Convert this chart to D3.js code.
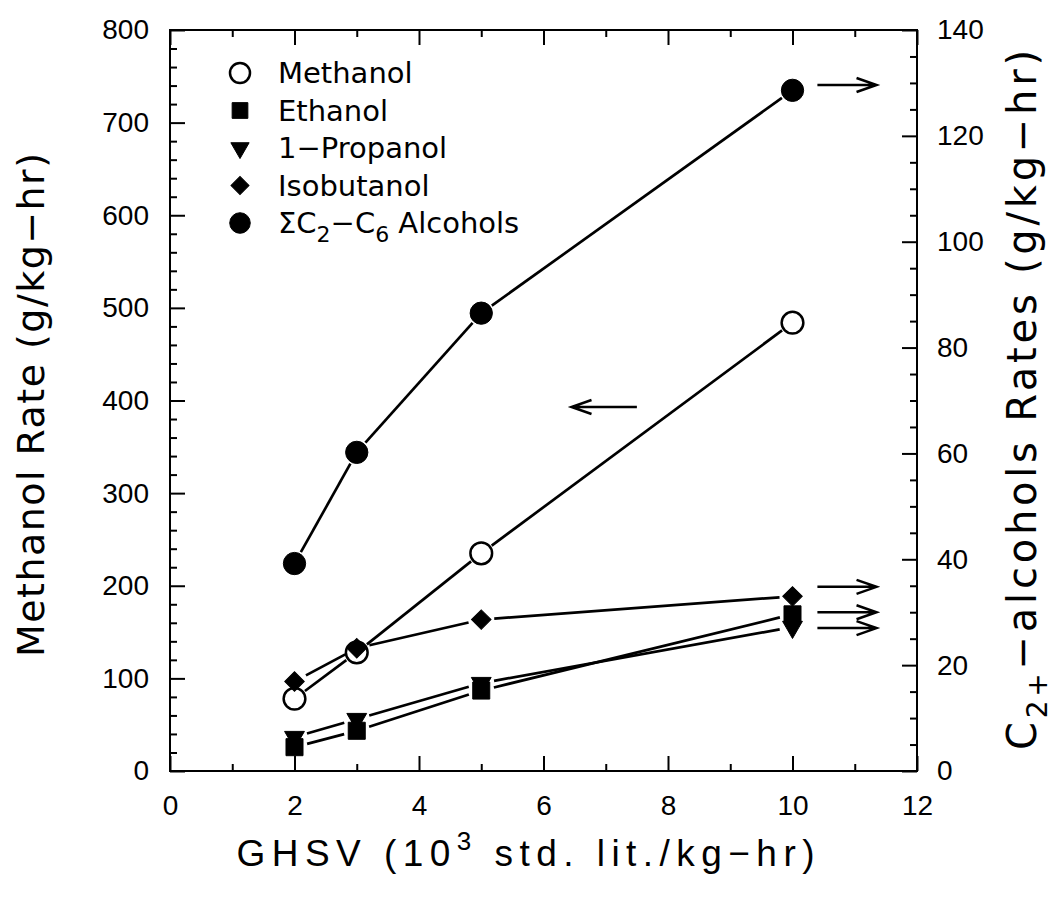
<!DOCTYPE html>
<html>
<head>
<meta charset="utf-8">
<script src="https://cdn.jsdelivr.net/npm/d3@7"></script>
<style>
  html, body { margin: 0; padding: 0; background: #fff; }
  svg { display: block; }
</style>
</head>
<body>
<div id="chart"></div>
<script>
// GHSV values (10^3 std. lit./kg-hr)
const ghsv = [2, 3, 5, 10];

// left axis: methanol rate (g/kg-hr)
const methanol = [78, 128, 235, 484];

// right axis: C2+ alcohol rates (g/kg-hr)
const ethanol = [4.5, 7.6, 15.2, 29.6];
const propanol = [6.4, 9.8, 16.6, 27.2];
const isobutanol = [16.9, 23.2, 28.6, 33.0];
const sumC2C6 = [39.2, 60.2, 86.5, 128.6];

// axis ticks
const xTicks = [0, 2, 4, 6, 8, 10, 12];
const yLeftTicks = [0, 100, 200, 300, 400, 500, 600, 700, 800];
const yRightTicks = [0, 20, 40, 60, 80, 100, 120, 140];

const width = 1056;
const height = 897;
const marginTop = 30;
const marginLeft = 170;
const marginRight = 139;
const marginBottom = 126;
const majorTick = 15;
const minorTick = 7;
const tickFont = "Liberation Sans, Arial, sans-serif";
const textFont = "DejaVu Sans, Verdana, sans-serif";

const x = d3.scaleLinear([0, 12], [marginLeft, width - marginRight]);
const yLeft = d3.scaleLinear([0, 800], [height - marginBottom, marginTop]);
const yRight = d3.scaleLinear([0, 140], [height - marginBottom, marginTop]);

const svg = d3
  .select("#chart")
  .append("svg")
  .attr("width", width)
  .attr("height", height)
  .attr("viewBox", [0, 0, width, height]);

svg.append("rect").attr("width", width).attr("height", height).attr("fill", "#fff");

// helper: style an axis group (inward ticks, no domain line)
function styleAxis(g, fontSize) {
  g.select(".domain").remove();
  g.selectAll(".tick line").attr("stroke", "#000").attr("stroke-width", 2);
  g.selectAll(".tick text")
    .attr("fill", "#000")
    .attr("font-family", tickFont)
    .attr("font-size", fontSize);
}

const xMinor = d3.range(0, 13, 1).filter((d) => d % 2 !== 0);
const yLeftMinor = d3.range(0, 801, 20).filter((d) => d % 100 !== 0);
const yRightMinor = d3.range(0, 141, 5).filter((d) => d % 20 !== 0);

// bottom axis
svg.append("g")
  .attr("transform", `translate(0,${height - marginBottom})`)
  .call(d3.axisBottom(x).tickValues(xTicks).tickSize(-majorTick).tickPadding(24))
  .call((g) => styleAxis(g, 28));
svg.append("g")
  .attr("transform", `translate(0,${height - marginBottom})`)
  .call(d3.axisBottom(x).tickValues(xMinor).tickSize(-minorTick).tickFormat(""))
  .call((g) => styleAxis(g, 28));

// top axis (ticks only)
svg.append("g")
  .attr("transform", `translate(0,${marginTop})`)
  .call(d3.axisTop(x).tickValues(xTicks).tickSize(-majorTick).tickFormat(""))
  .call((g) => styleAxis(g, 28));
svg.append("g")
  .attr("transform", `translate(0,${marginTop})`)
  .call(d3.axisTop(x).tickValues(xMinor).tickSize(-minorTick).tickFormat(""))
  .call((g) => styleAxis(g, 28));

// left axis
svg.append("g")
  .attr("transform", `translate(${marginLeft},0)`)
  .call(d3.axisLeft(yLeft).tickValues(yLeftTicks).tickSize(-majorTick).tickPadding(21))
  .call((g) => styleAxis(g, 28));
svg.append("g")
  .attr("transform", `translate(${marginLeft},0)`)
  .call(d3.axisLeft(yLeft).tickValues(yLeftMinor).tickSize(-minorTick).tickFormat(""))
  .call((g) => styleAxis(g, 28));

// right axis
svg.append("g")
  .attr("transform", `translate(${width - marginRight},0)`)
  .call(d3.axisRight(yRight).tickValues(yRightTicks).tickSize(-majorTick).tickPadding(20))
  .call((g) => styleAxis(g, 28));
svg.append("g")
  .attr("transform", `translate(${width - marginRight},0)`)
  .call(d3.axisRight(yRight).tickValues(yRightMinor).tickSize(-minorTick).tickFormat(""))
  .call((g) => styleAxis(g, 28));

// frame
svg.append("rect")
  .attr("x", marginLeft)
  .attr("y", marginTop)
  .attr("width", width - marginLeft - marginRight)
  .attr("height", height - marginTop - marginBottom)
  .attr("fill", "none")
  .attr("stroke", "#000")
  .attr("stroke-width", 2);

// axis titles
svg.append("text")
  .attr("transform", `translate(44,${(153 + 657) / 2}) rotate(-90)`)
  .attr("text-anchor", "middle")
  .attr("font-family", textFont)
  .attr("font-size", 38)
  .attr("textLength", 504)
  .attr("lengthAdjust", "spacing")
  .text("Methanol Rate (g/kg\u2212hr)");

const rTitle = svg.append("text")
  .attr("transform", `translate(1036,400) rotate(-90)`)
  .attr("text-anchor", "middle")
  .attr("font-family", textFont)
  .attr("font-size", 40)
  .attr("textLength", 700)
  .attr("lengthAdjust", "spacing");
rTitle.append("tspan").text("C");
rTitle.append("tspan").attr("font-size", 28).attr("dy", 11).text("2+");
rTitle.append("tspan").attr("dy", -11).text("\u2212alcohols Rates (g/kg\u2212hr)");

const xTitle = svg.append("text")
  .attr("x", (x(0) + x(12)) / 2 - 18)
  .attr("y", 866)
  .attr("text-anchor", "middle")
  .attr("font-family", tickFont)
  .attr("font-size", 37)
  .attr("textLength", 578)
  .attr("lengthAdjust", "spacing");
xTitle.append("tspan").text("GHSV (10");
xTitle.append("tspan").attr("font-size", 26).attr("dy", -16).text("3");
xTitle.append("tspan").attr("dy", 16).text(" std. lit./kg\u2212hr)");

// series definitions
const series = [
  { name: "Methanol", values: methanol, y: yLeft, symbol: d3.symbolCircle, size: 370, fill: "#fff", rotate: 0 },
  { name: "Ethanol", values: ethanol, y: yRight, symbol: d3.symbolSquare, size: 290, fill: "#000", rotate: 0 },
  { name: "1\u2212Propanol", values: propanol, y: yRight, symbol: d3.symbolTriangle, size: 170, fill: "#000", rotate: 180 },
  { name: "Isobutanol", values: isobutanol, y: yRight, symbol: d3.symbolSquare, size: 190, fill: "#000", rotate: 45 },
  { name: "sum", values: sumC2C6, y: yRight, symbol: d3.symbolCircle, size: 390, fill: "#000", rotate: 0 },
];

const gap = 13; // lines stop short of the markers

const lineG = svg.append("g").attr("stroke", "#000").attr("stroke-width", 2.7).attr("fill", "none");
series.forEach((s) => {
  const pts = ghsv.map((g, i) => [x(g), s.y(s.values[i])]);
  for (let i = 0; i < pts.length - 1; i++) {
    const [x1, y1] = pts[i];
    const [x2, y2] = pts[i + 1];
    const len = Math.hypot(x2 - x1, y2 - y1);
    const ux = (x2 - x1) / len;
    const uy = (y2 - y1) / len;
    lineG.append("line")
      .attr("x1", x1 + ux * gap)
      .attr("y1", y1 + uy * gap)
      .attr("x2", x2 - ux * gap)
      .attr("y2", y2 - uy * gap);
  }
});

const markG = svg.append("g");
series.forEach((s) => {
  markG.append("g")
    .selectAll("path")
    .data(ghsv.map((g, i) => [g, s.values[i]]))
    .join("path")
    .attr("d", d3.symbol(s.symbol, s.size))
    .attr("transform", (d) => `translate(${x(d[0])},${s.y(d[1])}) rotate(${s.rotate})`)
    .attr("fill", s.fill)
    .attr("stroke", "#000")
    .attr("stroke-width", s.fill === "#fff" ? 2.5 : 1);
});

// legend
const legend = svg.append("g")
  .attr("font-family", textFont)
  .attr("font-size", 29);
series.forEach((s, i) => {
  const cy = 73 + i * 37.5;
  legend.append("path")
    .attr("d", d3.symbol(s.symbol, s.size * 0.85))
    .attr("transform", `translate(240,${cy}) rotate(${s.rotate})`)
    .attr("fill", s.fill)
    .attr("stroke", "#000")
    .attr("stroke-width", s.fill === "#fff" ? 2.5 : 1);
  const t = legend.append("text").attr("x", 278).attr("y", cy + 10);
  if (s.name === "sum") {
    t.append("tspan").text("\u03a3C");
    t.append("tspan").attr("font-size", 22).attr("dy", 9).text("2");
    t.append("tspan").attr("dy", -9).text("\u2212C");
    t.append("tspan").attr("font-size", 22).attr("dy", 9).text("6");
    t.append("tspan").attr("dy", -9).text(" Alcohols");
  } else {
    t.text(s.name);
  }
});

// arrows pointing at the axis each curve belongs to
const arrows = [
  { x0: 7.5, x1: 6.45, y: yLeft, v: 393 },
  { x0: 10.4, x1: 11.35, y: yRight, v: 129.6 },
  { x0: 10.4, x1: 11.35, y: yRight, v: 34.8 },
  { x0: 10.4, x1: 11.35, y: yRight, v: 30.0 },
  { x0: 10.4, x1: 11.35, y: yRight, v: 27.0 },
];
const arrowG = svg.append("g").attr("stroke", "#000").attr("stroke-width", 2.5).attr("fill", "none");
arrows.forEach((a) => {
  const xa = x(a.x0);
  const xb = x(a.x1);
  const ya = a.y(a.v);
  const dir = Math.sign(xb - xa);
  arrowG.append("path")
    .attr("d", `M${xa},${ya}H${xb}M${xb - dir * 20},${ya - 7}L${xb},${ya}L${xb - dir * 20},${ya + 7}`);
});
</script>
</body>
</html>
